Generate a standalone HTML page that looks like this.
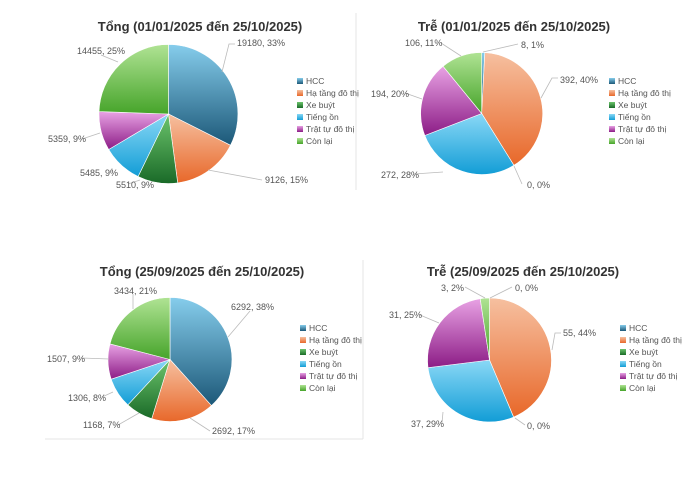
<!DOCTYPE html>
<html><head><meta charset="utf-8"><style>
body{margin:0;background:#fff;}
svg{display:block;font-family:"Liberation Sans","DejaVu Sans",sans-serif;}
.t{font-size:13px;font-weight:bold;fill:#333;text-anchor:middle}
.l{font-size:9px;fill:#555}
.g{font-size:8.5px;fill:#555}
.ln{stroke:#bbb;stroke-width:0.8;fill:none}
.s{stroke:#fff;stroke-width:0.6}
</style></head><body>
<svg width="698" height="482" viewBox="0 0 698 482">
<defs>
<linearGradient id="cH" x1="0" y1="0" x2="0" y2="1"><stop offset="0" stop-color="#86cdec"/><stop offset="1" stop-color="#1c5878"/></linearGradient>
<linearGradient id="cO" x1="0" y1="0" x2="0" y2="1"><stop offset="0" stop-color="#f6c0a0"/><stop offset="1" stop-color="#e8682a"/></linearGradient>
<linearGradient id="cX" x1="0" y1="0" x2="0" y2="1"><stop offset="0" stop-color="#6cc46c"/><stop offset="1" stop-color="#1a6a28"/></linearGradient>
<linearGradient id="cT" x1="0" y1="0" x2="0" y2="1"><stop offset="0" stop-color="#8ad8f6"/><stop offset="1" stop-color="#129dd6"/></linearGradient>
<linearGradient id="cP" x1="0" y1="0" x2="0" y2="1"><stop offset="0" stop-color="#e8a2e4"/><stop offset="1" stop-color="#8c1c86"/></linearGradient>
<linearGradient id="cG" x1="0" y1="0" x2="0" y2="1"><stop offset="0" stop-color="#b0e394"/><stop offset="1" stop-color="#46a42a"/></linearGradient>
</defs>
<line x1="356" y1="13" x2="356" y2="190" stroke="#e4e4e4"/>
<line x1="363" y1="260" x2="363" y2="439" stroke="#e4e4e4"/>
<line x1="45" y1="439" x2="363" y2="439" stroke="#e4e4e4"/>

<!-- Chart 1 -->
<text class="t" x="200" y="31">Tổng (01/01/2025 đến 25/10/2025)</text>
<g class="s">
<path fill="url(#cH)" d="M168.5,114 L168.5,44.5 A69.5,69.5 0 0 1 230.5,145.3Z"/>
<path fill="url(#cO)" d="M168.5,114 L230.5,145.3 A69.5,69.5 0 0 1 177.7,182.9Z"/>
<path fill="url(#cX)" d="M168.5,114 L177.7,182.9 A69.5,69.5 0 0 1 138.1,176.5Z"/>
<path fill="url(#cT)" d="M168.5,114 L138.1,176.5 A69.5,69.5 0 0 1 108.7,149.5Z"/>
<path fill="url(#cP)" d="M168.5,114 L108.7,149.5 A69.5,69.5 0 0 1 99.0,111.6Z"/>
<path fill="url(#cG)" d="M168.5,114 L99.0,111.6 A69.5,69.5 0 0 1 168.5,44.5Z"/>
</g>
<path class="ln" d="M222,72 L229,44 L235,44 M118,62 L101,55 M100,133 L82,139 M112,168 L112,172 M140,180 L128,184 M208,170 L262,180"/>
<text class="l" x="237" y="46">19180, 33%</text>
<text class="l" x="77" y="54">14455, 25%</text>
<text class="l" x="48" y="142">5359, 9%</text>
<text class="l" x="80" y="176">5485, 9%</text>
<text class="l" x="116" y="188">5510, 9%</text>
<text class="l" x="265" y="183">9126, 15%</text>

<!-- Chart 2 -->
<text class="t" x="514" y="31">Trễ (01/01/2025 đến 25/10/2025)</text>
<g class="s">
<path fill="url(#cH)" d="M481.7,113.5 L481.7,52.5 A61,61 0 0 1 484.8,52.6Z"/>
<path fill="url(#cO)" d="M481.7,113.5 L484.8,52.6 A61,61 0 0 1 513.9,165.3Z"/>
<path fill="url(#cT)" d="M481.7,113.5 L513.9,165.3 A61,61 0 0 1 424.8,135.5Z"/>
<path fill="url(#cP)" d="M481.7,113.5 L424.8,135.5 A61,61 0 0 1 443.1,66.3Z"/>
<path fill="url(#cG)" d="M481.7,113.5 L443.1,66.3 A61,61 0 0 1 481.7,52.5Z"/>
</g>
<path class="ln" d="M483,52 L518,44 M541,98 L552,78 L558,78 M514,166 L522,184 M443,172 L414,174 M422,99 L405,93 M461,56 L441,43"/>
<text class="l" x="521" y="48">8, 1%</text>
<text class="l" x="560" y="83">392, 40%</text>
<text class="l" x="527" y="188">0, 0%</text>
<text class="l" x="381" y="178">272, 28%</text>
<text class="l" x="371" y="97">194, 20%</text>
<text class="l" x="405" y="46">106, 11%</text>

<!-- Chart 3 -->
<text class="t" x="202" y="276">Tổng (25/09/2025 đến 25/10/2025)</text>
<g class="s">
<path fill="url(#cH)" d="M170,359.5 L170,297.5 A62,62 0 0 1 211.4,405.6Z"/>
<path fill="url(#cO)" d="M170,359.5 L211.4,405.6 A62,62 0 0 1 151.7,418.7Z"/>
<path fill="url(#cX)" d="M170,359.5 L151.7,418.7 A62,62 0 0 1 127.8,404.9Z"/>
<path fill="url(#cT)" d="M170,359.5 L127.8,404.9 A62,62 0 0 1 111.2,379.2Z"/>
<path fill="url(#cP)" d="M170,359.5 L111.2,379.2 A62,62 0 0 1 110.0,343.9Z"/>
<path fill="url(#cG)" d="M170,359.5 L110.0,343.9 A62,62 0 0 1 170,297.5Z"/>
</g>
<path class="ln" d="M228,337 L250,311 M133,309 L133,294 M109,359 L82,358 M113,392 L102,397 M139,413 L118,425 M190,418 L210,431"/>
<text class="l" x="231" y="310">6292, 38%</text>
<text class="l" x="114" y="294">3434, 21%</text>
<text class="l" x="47" y="362">1507, 9%</text>
<text class="l" x="68" y="401">1306, 8%</text>
<text class="l" x="83" y="428">1168, 7%</text>
<text class="l" x="212" y="434">2692, 17%</text>

<!-- Chart 4 -->
<text class="t" x="523" y="276">Trễ (25/09/2025 đến 25/10/2025)</text>
<g class="s">
<path fill="url(#cO)" d="M489.5,360 L489.5,298 A62,62 0 0 1 513.6,417.1Z"/>
<path fill="url(#cT)" d="M489.5,360 L513.6,417.1 A62,62 0 0 1 428.0,367.7Z"/>
<path fill="url(#cP)" d="M489.5,360 L428.0,367.7 A62,62 0 0 1 480.2,298.7Z"/>
<path fill="url(#cG)" d="M489.5,360 L480.2,298.7 A62,62 0 0 1 489.5,298Z"/>
</g>
<path class="ln" d="M490,298 L512,287 M485,298 L465,287 M439,323 L420,315 M552,350 L555,333 L561,333 M443,412 L442,423 M515,418 L525,425"/>
<text class="l" x="515" y="291">0, 0%</text>
<text class="l" x="441" y="291">3, 2%</text>
<text class="l" x="389" y="318">31, 25%</text>
<text class="l" x="563" y="336">55, 44%</text>
<text class="l" x="411" y="427">37, 29%</text>
<text class="l" x="527" y="429">0, 0%</text>

<!-- Legends -->
<g id="lg1" transform="translate(297,78)">
<rect x="0" y="0" width="6" height="6" fill="url(#cH)"/><text class="g" x="9" y="6">HCC</text>
<rect x="0" y="12" width="6" height="6" fill="url(#cO)"/><text class="g" x="9" y="18">Hạ tầng đô thị</text>
<rect x="0" y="24" width="6" height="6" fill="url(#cX)"/><text class="g" x="9" y="30">Xe buýt</text>
<rect x="0" y="36" width="6" height="6" fill="url(#cT)"/><text class="g" x="9" y="42">Tiếng ồn</text>
<rect x="0" y="48" width="6" height="6" fill="url(#cP)"/><text class="g" x="9" y="54">Trật tự đô thị</text>
<rect x="0" y="60" width="6" height="6" fill="url(#cG)"/><text class="g" x="9" y="66">Còn lại</text>
</g>
<g transform="translate(609,78)">
<rect x="0" y="0" width="6" height="6" fill="url(#cH)"/><text class="g" x="9" y="6">HCC</text>
<rect x="0" y="12" width="6" height="6" fill="url(#cO)"/><text class="g" x="9" y="18">Hạ tầng đô thị</text>
<rect x="0" y="24" width="6" height="6" fill="url(#cX)"/><text class="g" x="9" y="30">Xe buýt</text>
<rect x="0" y="36" width="6" height="6" fill="url(#cT)"/><text class="g" x="9" y="42">Tiếng ồn</text>
<rect x="0" y="48" width="6" height="6" fill="url(#cP)"/><text class="g" x="9" y="54">Trật tự đô thị</text>
<rect x="0" y="60" width="6" height="6" fill="url(#cG)"/><text class="g" x="9" y="66">Còn lại</text>
</g>
<g transform="translate(300,325)">
<rect x="0" y="0" width="6" height="6" fill="url(#cH)"/><text class="g" x="9" y="6">HCC</text>
<rect x="0" y="12" width="6" height="6" fill="url(#cO)"/><text class="g" x="9" y="18">Hạ tầng đô thị</text>
<rect x="0" y="24" width="6" height="6" fill="url(#cX)"/><text class="g" x="9" y="30">Xe buýt</text>
<rect x="0" y="36" width="6" height="6" fill="url(#cT)"/><text class="g" x="9" y="42">Tiếng ồn</text>
<rect x="0" y="48" width="6" height="6" fill="url(#cP)"/><text class="g" x="9" y="54">Trật tự đô thị</text>
<rect x="0" y="60" width="6" height="6" fill="url(#cG)"/><text class="g" x="9" y="66">Còn lại</text>
</g>
<g transform="translate(620,325)">
<rect x="0" y="0" width="6" height="6" fill="url(#cH)"/><text class="g" x="9" y="6">HCC</text>
<rect x="0" y="12" width="6" height="6" fill="url(#cO)"/><text class="g" x="9" y="18">Hạ tầng đô thị</text>
<rect x="0" y="24" width="6" height="6" fill="url(#cX)"/><text class="g" x="9" y="30">Xe buýt</text>
<rect x="0" y="36" width="6" height="6" fill="url(#cT)"/><text class="g" x="9" y="42">Tiếng ồn</text>
<rect x="0" y="48" width="6" height="6" fill="url(#cP)"/><text class="g" x="9" y="54">Trật tự đô thị</text>
<rect x="0" y="60" width="6" height="6" fill="url(#cG)"/><text class="g" x="9" y="66">Còn lại</text>
</g>
</svg>
</body></html>
